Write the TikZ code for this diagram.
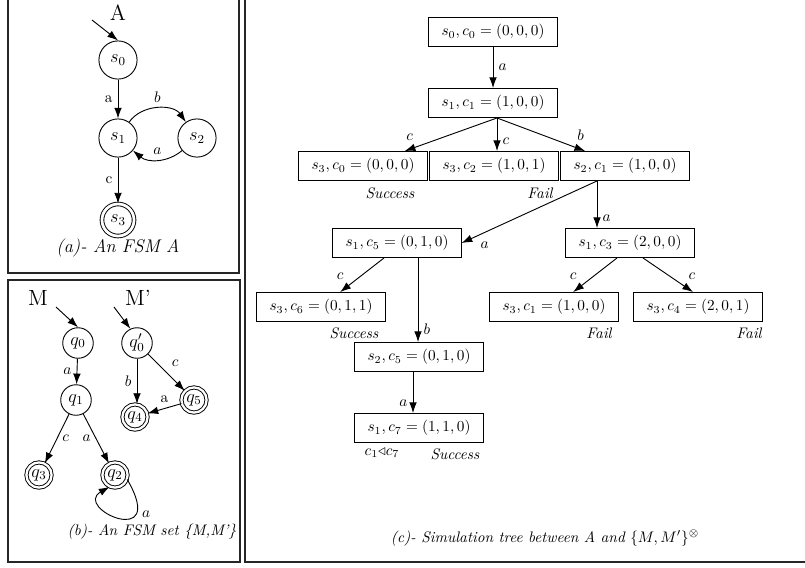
\documentclass[tikz,border=0pt]{standalone}
\usepackage{amsmath,amssymb}
\usetikzlibrary{arrows.meta, positioning, calc}
\tikzset{
  fsmstate/.style={
    circle, draw=black, minimum size=25pt, inner sep=0pt, line width=0.6pt, font=\large
  },
  fsmq/.style={fsmstate, minimum size=20pt},
  accstate/.style={fsmstate, double, double distance=1.8pt, minimum size=21pt},
  accq/.style={fsmstate, double, double distance=1.5pt, minimum size=16.5pt},
  simbox/.style={
    rectangle, draw=black, line width=0.6pt, minimum width=84pt, minimum height=19pt,
    inner sep=1pt, align=center
  },
  trans/.style={-{Latex[length=7pt,width=5pt]}, line width=0.6pt},
  biglabel/.style={font=\Large},
  verdict/.style={font=\itshape},
  caption/.style={font=\itshape},
  panel/.style={line width=0.9pt, draw=black!85}
}

\begin{document}
\begin{tikzpicture}[x=0.655pt, y=-0.655pt]
    \useasboundingbox (0,0) rectangle (805,567);
    % frames
    \draw[panel] (8,0) -- (8,273) -- (239,273) -- (239,0);
    \draw[panel] (8,280) rectangle (240,562);
    \draw[panel] (245,0) -- (245,562) -- (805,562);

    % (a) the FSM A
    \node[biglabel] (lblA) at (118,13) {A};
    \node[fsmstate] (s0) at (118,60) {$s_0$};
    \node[fsmstate] (s1) at (118,138) {$s_1$};
    \node[fsmstate] (s2) at (197,138) {$s_2$};
    \node[accstate] (s3) at (118,220) {$s_3$};
    \coordinate (s0in) at (92,20);
    \draw[trans] (s0in) -- (s0.north);
    \draw[trans] (s0) -- node[left] {a} (s1);
    \draw[trans] (s1) to[bend left=55] node[above] {$b$} (s2);
    \draw[trans] (s2) to[bend left=40] node[above] {$a$} (s1);
    \draw[trans] (s1) -- node[left] {c} (s3);
    \node[caption, font=\large\itshape] (capA) at (118,248) {(a)- An FSM A};

    % (b) the FSM set
    \node[biglabel] (lblM) at (38,298) {M};
    \node[biglabel] (lblMp) at (138,298) {M'};
    \node[fsmq] (q0) at (78,343) {$q_0$};
    \node[fsmq] (q1) at (76,400) {$q_1$};
    \node[accq] (q3) at (39,475) {$q_3$};
    \node[accq] (q2) at (115,475) {$q_2$};
    \node[fsmq] (qp0) at (137,343) {$q'_0$};
    \node[accq] (q4) at (135,417) {$q_4$};
    \node[accq] (q5) at (194,400) {$q_5$};
    \coordinate (q0in) at (56,307);
    \coordinate (qp0in) at (114,307);
    \draw[trans] (q0in) -- (q0.north);
    \draw[trans] (qp0in) -- (qp0.115);
    \draw[trans] (q0) -- node[left] {$a$} (q1);
    \draw[trans] (q1) -- node[right] {$c$} (q3);
    \draw[trans] (q1) -- node[left] {$a$} (q2);
    \draw[trans] (q2.-20) .. controls +(-60:54pt) and +(-150:28pt) .. node[pos=0.25, right] {$a$} (q2.-115);
    \draw[trans] (qp0) -- node[left] {$b$} (qp0 |- q4.north);
    \draw[trans] (qp0) -- node[above right] {$c$} (q5);
    \draw[trans] (q5) -- node[above] {a} (q4);
    \node[caption] (capB) at (152,532) {(b)- An FSM set \{M,M'\}};

    % (c) simulation tree
    \node[simbox] (t0) at (493,32) {$s_0,c_0=(0,0,0)$};
    \node[simbox] (t1) at (493,103) {$s_1,c_1=(1,0,0)$};
    \node[simbox] (t2) at (363,166) {$s_3,c_0=(0,0,0)$};
    \node[simbox] (t3) at (494,166) {$s_3,c_2=(1,0,1)$};
    \node[simbox] (t4) at (625,166) {$s_2,c_1=(1,0,0)$};
    \node[simbox] (t5) at (397,243) {$s_1,c_5=(0,1,0)$};
    \node[simbox] (t6) at (630,243) {$s_1,c_3=(2,0,0)$};
    \node[simbox] (t7) at (321,307) {$s_3,c_6=(0,1,1)$};
    \node[simbox] (t8) at (554,307) {$s_3,c_1=(1,0,0)$};
    \node[simbox] (t9) at (698,307) {$s_3,c_4=(2,0,1)$};
    \node[simbox] (t10) at (419,357) {$s_2,c_5=(0,1,0)$};
    \node[simbox] (t11) at (419,428) {$s_1,c_7=(1,1,0)$};

    \coordinate (t1b) at ($(t1.south)+(4,0)$);
    \coordinate (t4b) at ($(t4.south)+(-28,0)$);
    \coordinate (t5l) at ($(t5.south)+(-13,0)$);
    \coordinate (t5r) at ($(t5.south)+(21,0)$);
    \coordinate (t6l) at ($(t6.south)+(-13,0)$);
    \coordinate (t6r) at ($(t6.south)+(13,0)$);
    \coordinate (t10b) at ($(t10.south)+(-6,0)$);

    \draw[trans] (t0) -- node[right] {$a$} (t1);
    \draw[trans] (t1b) -- node[pos=0.85, above left] {$c$} (t2);
    \draw[trans] (t1b) -- node[pos=0.7, right] {$c$} (t1b |- t3.north);
    \draw[trans] (t1b) -- node[pos=0.85, above right] {$b$} (t4);
    \draw[trans] (t4b) -- node[pos=0.9, below right] {$a$} (t5.east);
    \draw[trans] (t4b) -- node[pos=0.8, right] {$a$} (t4b |- t6.north);
    \draw[trans] (t5l) -- node[pos=0.8, above left] {$c$} (t7);
    \draw[trans] (t5r) -- node[pos=0.85, right] {$b$} (t5r |- t10.north);
    \draw[trans] (t6l) -- node[pos=0.8, above left] {$c$} (t8);
    \draw[trans] (t6r) -- node[pos=0.8, above right] {$c$} ($(t9.north)+(-5,0)$);
    \draw[trans] (t10b) -- node[pos=0.75, left] {$a$} (t10b |- t11.north);

    \node[verdict] (v2) at (390,193) {Success};
    \node[verdict] (v3) at (540,193) {Fail};
    \node[verdict] (v7) at (354,333) {Success};
    \node[verdict] (v8) at (599,333) {Fail};
    \node[verdict] (v9) at (749,333) {Fail};
    \node (v11a) at (382,453) {$c_1{\triangleleft}c_7$};
    \node[verdict] (v11) at (455,454) {Success};
    \node[caption] (capC) at (545,538) {(c)- Simulation tree between A and $\{M,M'\}^{\otimes}$};
\end{tikzpicture}
\end{document}
